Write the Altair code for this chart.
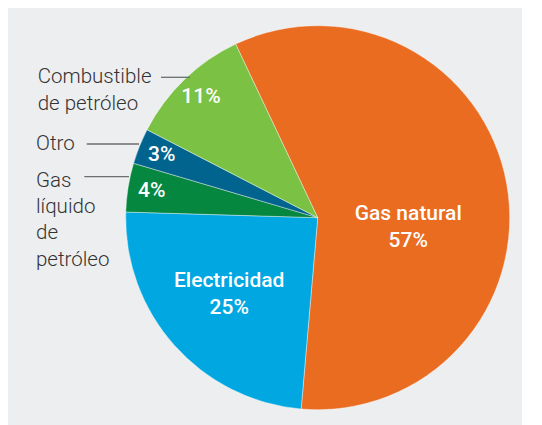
import math
import altair as alt
import pandas as pd

# slice data (shares; labels as printed)
categories = ["Gas natural", "Electricidad", "Gas líquido de petróleo", "Otro", "Combustible de petróleo"]
shares = [58.4, 24.1, 4.1, 3.0, 10.4]
labels = ["Gas natural\n57%", "Electricidad\n25%", "4%", "3%", "11%"]
colors = ["#E96C21", "#00A7E1", "#05873F", "#00648F", "#7BC143"]
side_labels = ["Combustible\nde petróleo", "Otro", "Gas\nlíquido\nde\npetróleo"]

df = pd.DataFrame({"cat": categories, "share": shares, "lbl": labels, "idx": list(range(len(categories)))})

start = -25.3 * math.pi / 180
CX, CY, R = 309.7, 209.7, 192

base = alt.Chart(df).encode(
    theta=alt.Theta("share:Q", stack=True, scale=alt.Scale(range=[start, start + 2 * math.pi])),
    order=alt.Order("idx:Q"),
    x=alt.value(CX),
    y=alt.value(CY),
)

arcs = base.mark_arc(radius=R, stroke="#ffffff", strokeWidth=0.4).encode(
    color=alt.Color("cat:N", scale=alt.Scale(domain=categories, range=colors), legend=None)
)

txt_style = dict(color="white", font="Roboto", fontSize=21, fontWeight=500,
                 lineBreak="\n", lineHeight=27, align="center", baseline="middle")

small = base.transform_calculate(
    t="datum.idx >= 2 ? datum.lbl : ''"
).mark_text(radius=168, **txt_style).encode(text="t:N")

gas = base.transform_calculate(
    t="datum.idx == 0 ? datum.lbl : ''"
).mark_text(radius=92, dy=13, **txt_style).encode(text="t:N")

elec = base.transform_calculate(
    t="datum.idx == 1 ? datum.lbl : ''"
).mark_text(radius=118.5, dy=-15, **txt_style).encode(text="t:N")

side_style = dict(color="#333333", font="Roboto", fontSize=20.5, fontWeight=300, lineBreak="\n",
                  align="left", baseline="alphabetic")

def side(i, x, y, lh):
    return alt.Chart(pd.DataFrame({"t": [side_labels[i]]})).mark_text(
        lineHeight=lh, **side_style
    ).encode(text="t:N", x=alt.value(x), y=alt.value(y))

def leader(x1, x2, y):
    return alt.Chart(pd.DataFrame({"a": [0]})).mark_rule(color="#6d6e71", strokeWidth=1.3).encode(
        x=alt.value(x1), x2=alt.value(x2), y=alt.value(y)
    )

chart = alt.layer(
    arcs, small, gas, elec,
    side(0, 29.7, 75, 27), side(1, 28, 142, 26), side(2, 28, 178.7, 26.3),
    leader(153, 182, 69.3), leader(78.7, 131, 136), leader(76.3, 121, 168.7),
).properties(
    width=514, height=420, padding=0, background="#EDEEF0",
    autosize=alt.AutoSizeParams(type="fit", contains="padding"),
).configure_view(stroke=None)

chart.save("out.html", embed_options={"renderer": "svg", "actions": False})
